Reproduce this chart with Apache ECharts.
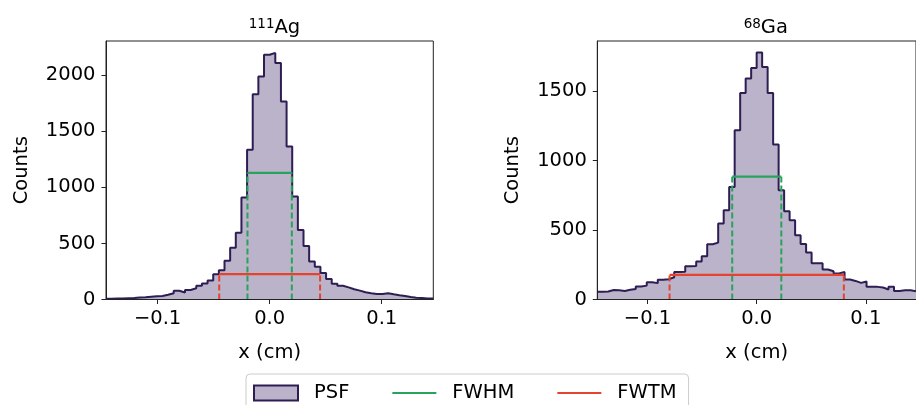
<!DOCTYPE html>
<html><head><meta charset="utf-8">
<script src="https://cdn.jsdelivr.net/npm/echarts@6/dist/echarts.min.js"></script>
<style>html,body{margin:0;padding:0;background:#fff}#c{width:916px;height:405px}</style>
</head><body><div id="c"></div>
<script>
// ---- data ----
const binMin = -0.146, binMax = 0.146;
const agCounts = [6, 8, 10, 12, 14, 18, 20, 24, 28, 32, 42, 55, 78, 62, 85, 100, 122, 142, 170, 225,
  262, 346, 462, 596, 909, 1335, 1832, 1990, 2183, 2200, 2109, 1766, 1364, 918, 620, 478, 338, 293, 236, 182,
  140, 122, 108, 91, 79, 64, 55, 49, 49, 55, 46, 38, 31, 22, 16, 13, 10, 9];
const gaCounts = [55, 58, 68, 66, 62, 70, 76, 94, 100, 124, 118, 142, 146, 160, 198, 200, 240, 242, 274, 312,
  398, 410, 548, 643, 811, 1220, 1489, 1592, 1669, 1780, 1676, 1489, 1117, 788, 636, 571, 463, 400, 339, 262,
  262, 216, 204, 187, 199, 144, 134, 120, 130, 91, 91, 86, 72, 91, 62, 67, 67, 60];
const agFwhmX = [-0.0198, 0.0198], agFwhmLevel = 1130;
const agFwtmX = [-0.0450, 0.0450], agFwtmLevel = 226;
const gaFwhmX = [-0.0224, 0.0226], gaFwhmLevel = 885;
const gaFwtmX = [-0.0798, 0.0799], gaFwtmLevel = 177;
const xTicks = [-0.1, 0, 0.1];
const agYTicks = [0, 500, 1000, 1500, 2000];
const gaYTicks = [0, 500, 1000, 1500];
const agYMax = 2306, gaYMax = 1863;
const titles = [['111', 'Ag'], ['68', 'Ga']];
const legendNames = ['PSF', 'FWHM', 'FWTM'];

// ---- style ----
const FONT = 'DejaVu Sans';
const FS = 19.5;
const FILL = '#bab3c9', STROKE = '#2d1d53', GREEN = '#27a35c', RED = '#e5432e';
const LINE_ICON = 'path://M0,0H44V2.2H0Z';

function histData(counts) {
  const w = (binMax - binMin) / counts.length;
  const d = counts.map((c, i) => [binMin + i * w, c]);
  d.push([binMax, counts[counts.length - 1]]);
  return d;
}
function fmtX(v) { return (v < 0 ? '\u2212' : '') + Math.abs(v).toFixed(1); }
function fmtY(v) { return String(v); }

const grids = [
  {left: 106, top: 41, width: 327.3, height: 258.5},
  {left: 597.3, top: 41, width: 326.5, height: 258.5}
];
const yTicksArr = [agYTicks, gaYTicks];
const yMaxArr = [agYMax, gaYMax];
const sets = [
  {counts: agCounts, fwhmX: agFwhmX, fwhmL: agFwhmLevel, fwtmX: agFwtmX, fwtmL: agFwtmLevel},
  {counts: gaCounts, fwhmX: gaFwhmX, fwhmL: gaFwhmLevel, fwtmX: gaFwtmX, fwtmL: gaFwtmLevel}
];

const xAxes = [], yAxes = [], series = [], titleArr = [];
grids.forEach((g, i) => {
  xAxes.push({
    type: 'value', gridIndex: i, min: binMin, max: binMax, z: 5,
    name: 'x (cm)', nameLocation: 'middle', nameGap: 43,
    nameTextStyle: {fontFamily: FONT, fontSize: FS, color: '#000'},
    axisLine: {show: true, onZero: false, lineStyle: {color: '#222', width: 1}},
    axisTick: {show: true, length: 4.5, lineStyle: {color: '#222', width: 1}, customValues: xTicks},
    axisLabel: {fontFamily: FONT, fontSize: FS, color: '#000', margin: 9, customValues: xTicks, formatter: fmtX},
    splitLine: {show: false}
  });
  yAxes.push({
    type: 'value', gridIndex: i, min: 0, max: yMaxArr[i], z: 5,
    name: 'Counts', nameLocation: 'middle', nameGap: 74,
    nameTextStyle: {fontFamily: FONT, fontSize: FS, color: '#000'},
    axisLine: {show: true, onZero: false, lineStyle: {color: '#222', width: 1}},
    axisTick: {show: true, length: 4.5, lineStyle: {color: '#222', width: 1}, customValues: yTicksArr[i]},
    axisLabel: {fontFamily: FONT, fontSize: FS, color: '#000', margin: 10.5, customValues: yTicksArr[i], formatter: fmtY},
    splitLine: {show: false}
  });
  titleArr.push({
    text: '{s|' + titles[i][0] + '}{m|' + titles[i][1] + '}',
    left: g.left + 163.5, top: 12, textAlign: 'center',
    textStyle: {fontWeight: 'normal', rich: {
      s: {fontFamily: FONT, fontSize: 13.5, fontWeight: 'normal', color: '#000', verticalAlign: 'top', lineHeight: 22},
      m: {fontFamily: FONT, fontSize: FS, fontWeight: 'normal', color: '#000', lineHeight: 22}
    }}
  });
  const s = sets[i];
  series.push({
    type: 'line', name: 'PSF', xAxisIndex: i, yAxisIndex: i, data: histData(s.counts),
    step: 'end', symbol: 'none', z: 2, animation: false,
    lineStyle: {color: STROKE, width: 2},
    areaStyle: {color: FILL, opacity: 1},
    itemStyle: {color: FILL, borderColor: STROKE}
  });
  const vlines = [[s.fwhmX, s.fwhmL, GREEN, 'FWHM'], [s.fwtmX, s.fwtmL, RED, 'FWTM']];
  vlines.forEach(([xs, lvl, col, nm], j) => {
    xs.forEach((x, k) => {
      series.push({
        type: 'line', name: nm + '_v' + k, xAxisIndex: i, yAxisIndex: i,
        data: [[x, 0], [x, lvl]], symbol: 'none', z: 3 + j, animation: false,
        lineStyle: {color: col, width: 2, type: [6, 3]}, itemStyle: {color: col}
      });
    });
    series.push({
      type: 'line', name: nm, xAxisIndex: i, yAxisIndex: i,
      data: [[xs[0], lvl], [xs[1], lvl]], symbol: 'none', z: 3 + j, animation: false,
      lineStyle: {color: col, width: 2.2}, itemStyle: {color: col}
    });
  });
});

const chart = echarts.init(document.getElementById('c'), null, {renderer: 'canvas'});
chart.setOption({
  animation: false,
  backgroundColor: '#fff',
  title: titleArr,
  grid: grids.map(g => Object.assign({show: true, borderColor: '#222', borderWidth: 1, backgroundColor: 'transparent'}, g)),
  xAxis: xAxes,
  yAxis: yAxes,
  legend: {
    left: 246, top: 374,
    padding: [9, 12, 20, 7],
    itemWidth: 44, itemHeight: 15, itemGap: 43,
    borderColor: '#cccccc', borderWidth: 1, borderRadius: 4, backgroundColor: '#fff',
    textStyle: {fontFamily: FONT, fontSize: FS, color: '#000', padding: [0, 0, 0, 11]},
    data: [
      {name: legendNames[0], icon: 'rect', itemStyle: {color: FILL, borderColor: STROKE, borderWidth: 2}},
      {name: legendNames[1], icon: LINE_ICON, itemStyle: {color: GREEN, borderWidth: 0}},
      {name: legendNames[2], icon: LINE_ICON, itemStyle: {color: RED, borderWidth: 0}}
    ]
  },
  series: series
});
</script></body></html>
